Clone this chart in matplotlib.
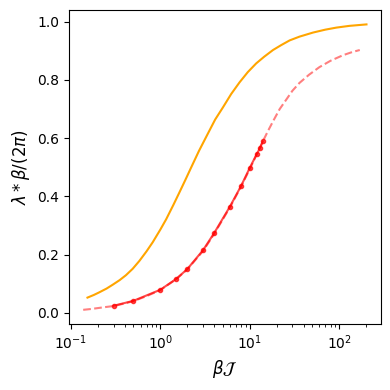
import numpy as np
import matplotlib
matplotlib.use("Agg")
import matplotlib.pyplot as plt

# orange curve
bj_exact = [0.153, 0.18, 0.207, 0.25, 0.292, 0.35, 0.412, 0.49, 0.582, 0.7, 0.82, 1.0,
            1.16, 1.4, 1.63, 1.9, 2.2, 2.7, 3.39, 4.1, 4.99, 6.2, 7.69, 9.5, 11.8,
            14.5, 18.2, 22.5, 27.9, 36, 51, 70, 93, 130, 202]
lam_exact = [0.052, 0.061, 0.070, 0.083, 0.096, 0.112, 0.129, 0.151, 0.178, 0.211, 0.242, 0.286,
             0.321, 0.371, 0.413, 0.456, 0.498, 0.556, 0.615, 0.664, 0.705, 0.752, 0.792, 0.827, 0.857,
             0.880, 0.903, 0.920, 0.936, 0.949, 0.963, 0.973, 0.980, 0.986, 0.991]

# dashed red curve
bj_fit = [0.137, 0.17, 0.2, 0.25, 0.3, 0.4, 0.5, 0.7, 1.0, 1.5, 2.0, 3.0, 4.0, 6.0, 8.0,
          10, 12, 14, 16, 18.5, 21.6, 25, 30, 36, 46, 60, 80, 110, 140, 170]
lam_fit = [0.010, 0.013, 0.016, 0.020, 0.023, 0.032, 0.040, 0.057, 0.078, 0.115, 0.149,
           0.212, 0.271, 0.362, 0.434, 0.494, 0.545, 0.589, 0.625, 0.662, 0.700, 0.728,
           0.763, 0.790, 0.818, 0.844, 0.866, 0.885, 0.896, 0.903]

# points
bj_pts = [0.3, 0.5, 1, 1.5, 2, 3, 4, 6, 8, 10, 12, 13, 14]
lam_pts = [0.024, 0.041, 0.079, 0.116, 0.150, 0.215, 0.274, 0.365, 0.436, 0.498, 0.546, 0.566, 0.589]

fig = plt.figure(figsize=(3.9, 3.9), dpi=100)
ax = fig.add_subplot(111)
fig.subplots_adjust(left=0.177, right=0.976, top=0.974, bottom=0.169)

ax.plot(bj_exact, lam_exact, color="orange", lw=1.5)
ax.plot(bj_fit, lam_fit, "--", color="red", alpha=0.5, lw=1.5)
ax.plot(bj_pts, lam_pts, "o-", color="red", alpha=0.7, ms=3, lw=1.5)

ax.set_xscale("log")
ax.set_xlabel(r"$\beta \mathcal{J}$", fontsize=12)
ax.set_ylabel(r"$\lambda * \beta / (2\pi)$", fontsize=12)

plt.savefig("out.png", dpi=100)
